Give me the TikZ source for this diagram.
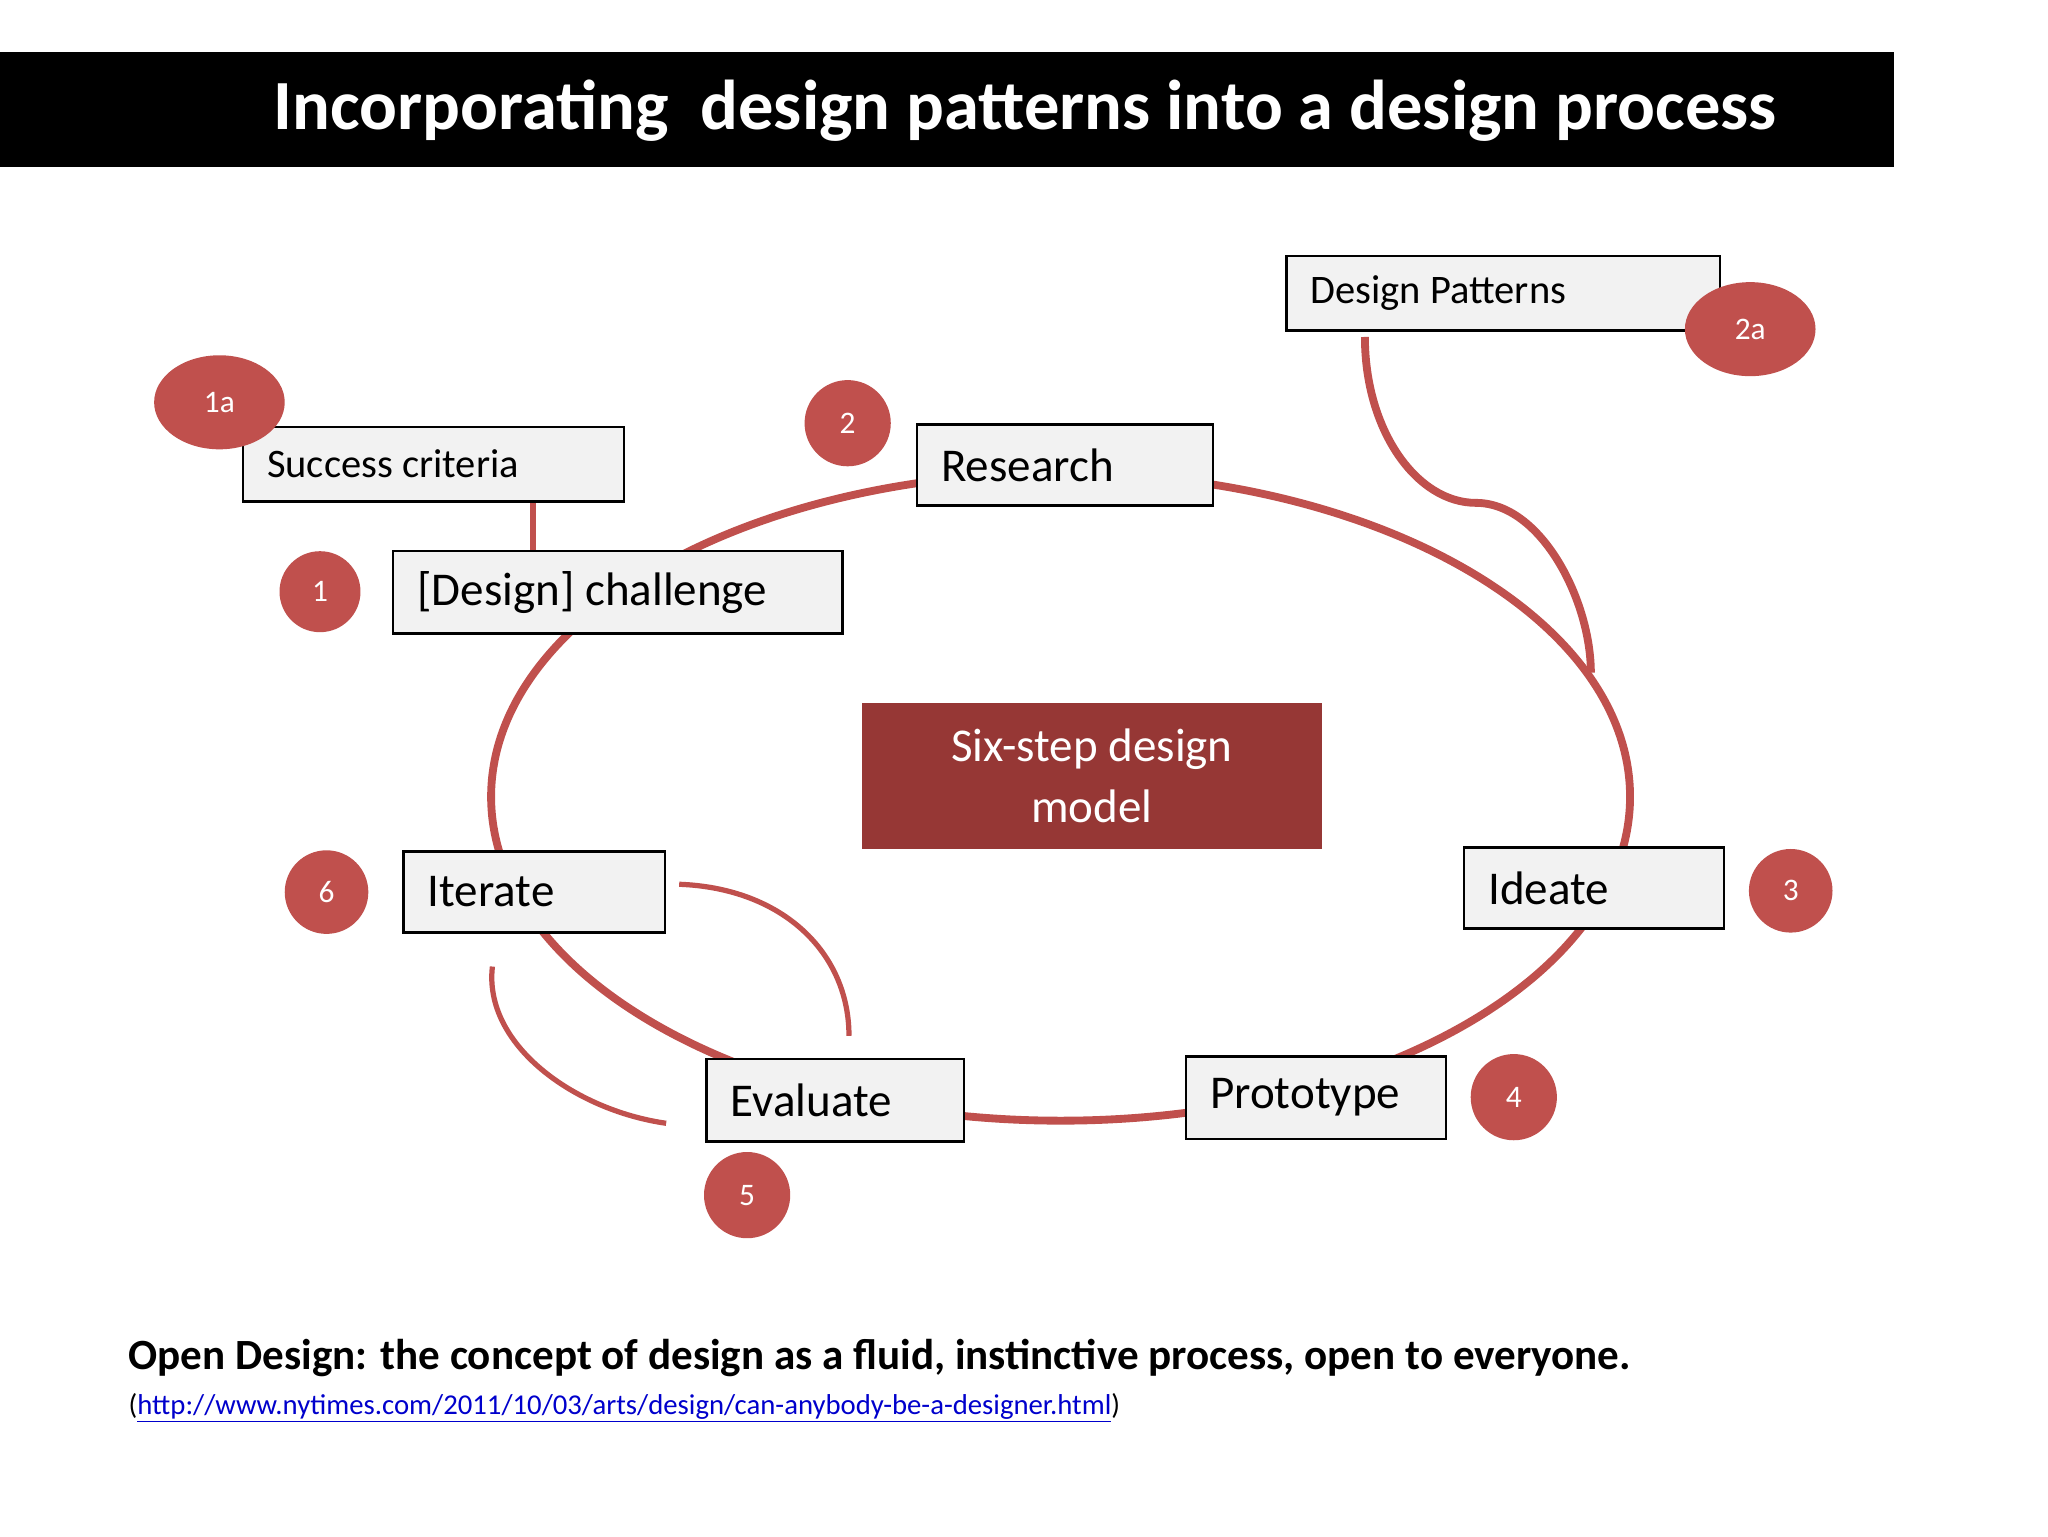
\documentclass[tikz,border=0pt]{standalone}
\usepackage{fontspec}
\usetikzlibrary{shapes.geometric}
\setmainfont{Carlito}
\definecolor{myred}{RGB}{192,80,77}
\definecolor{dred}{RGB}{150,55,53}
\definecolor{boxg}{RGB}{242,242,242}
\definecolor{lnk}{RGB}{0,0,204}
\begin{document}
\begin{tikzpicture}[x=1pt,y=-1pt,
  stepbox/.style={draw=black,line width=1.8pt,fill=boxg,anchor=north west,inner sep=0pt,text depth=0pt},
  num/.style={circle,fill=myred,text=white,minimum size=64pt,inner sep=0pt,font=\fontsize{24}{28}\selectfont},
  numel/.style={ellipse,fill=myred,text=white,minimum width=100pt,minimum height=72pt,inner sep=0pt,font=\fontsize{24}{28}\selectfont},
  conn/.style={draw=myred,line width=6pt}]
\useasboundingbox (0,0) rectangle (1568,1176);
\fill[white] (0,0) rectangle (1568,1176);
\fill[black] (0,40) rectangle (1450,128);
\node[text=white,font=\fontsize{54}{60}\selectfont\bfseries] (title) at (785,85) {Incorporating\ \ design patterns into a design process};
% ellipse
\draw[conn] (812,610) ellipse [x radius=436, y radius=248];
\coordinate (sc) at (408,383);
\coordinate (dc) at (408,421);
\draw[conn,line width=4pt] (sc) -- (dc);
\coordinate (dp1) at (1045,258);
\coordinate (dp2) at (1218,515);
\draw[conn] (dp1) .. controls (1045,330) and (1085,385) .. (1130,385) .. controls (1180,385) and (1218,460) .. (dp2);
\coordinate (a1) at (520,677); \coordinate (a2) at (650,793);
\draw[conn,line width=4pt] (a1) .. controls (600,680) and (650,730) .. (a2);
\coordinate (b1) at (377,740); \coordinate (b2) at (510,860);
\draw[conn,line width=4pt] (b1) .. controls (370,800) and (440,850) .. (b2);
% boxes
\newcommand\stepbx[5]{\node[stepbox,minimum width=#3,minimum height=#4] (#1) at #2 {};
  \node[anchor=west,font=\fontsize{#5}{#5}\selectfont] at ([xshift=16pt]#1.west) {\csname lbl#1\endcsname};}
\def\lblsucc{Success criteria}\def\lblchal{[Design] challenge}\def\lblres{Research}
\def\lbldp{Design Patterns}\def\lblide{Ideate}\def\lblproto{Prototype}
\def\lbleval{Evaluate}\def\lbliter{Iterate}
\stepbx{succ}{(185,326)}{292pt}{57pt}{31}
\stepbx{chal}{(300,421)}{344pt}{63pt}{36}
\stepbx{res}{(701,324)}{227pt}{62pt}{36}
\stepbx{dp}{(984,195)}{332pt}{57pt}{31}
\stepbx{ide}{(1120,648)}{199pt}{62pt}{36}
\stepbx{proto}{(907,808)}{199pt}{63pt}{36}
\stepbx{eval}{(540,810)}{197pt}{63pt}{36}
\stepbx{iter}{(308,651)}{200pt}{62pt}{36}
\node[fill=dred,minimum width=352pt,minimum height=112pt,text=white,align=center,font=\fontsize{36}{46}\selectfont] (model) at (836,594) {Six-step design\\model};
% numbers
\node[numel] (n1a) at (168,308) {1a};
\node[numel] (n2a) at (1340,252) {2a};
\node[num,minimum size=62pt] (n1) at (245,453) {1};
\node[num,minimum size=66pt] (n2) at (649,324) {2};
\node[num] (n3) at (1371,682) {3};
\node[num,minimum size=66pt] (n4) at (1159,840) {4};
\node[num,minimum size=66pt] (n5) at (572,915) {5};
\node[num] (n6) at (250,683) {6};
% bottom text
\node[anchor=west,font=\fontsize{33}{36}\selectfont\bfseries] (bt) at (95,1040) {Open Design: the concept of design as a fluid, instinctive process, open to everyone.};
\node[anchor=west,font=\fontsize{22}{26}\selectfont] (lk) at (95,1078) {(\textcolor{lnk}{\underline{http://www.nytimes.com/2011/10/03/arts/design/can-anybody-be-a-designer.html}})};
\end{tikzpicture}
\end{document}
